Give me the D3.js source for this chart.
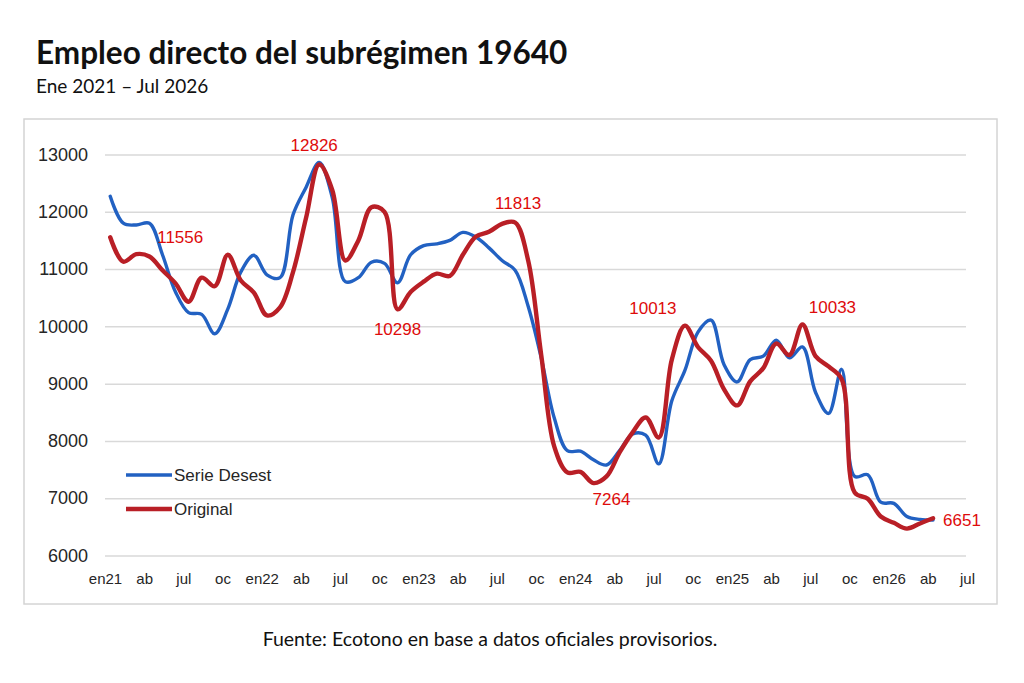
<!DOCTYPE html>
<html>
<head>
<meta charset="utf-8">
<script src="https://cdn.jsdelivr.net/npm/d3@7"></script>
<style>
  body { margin: 0; background: #fff; }
  svg { display: block; }
</style>
</head>
<body>
<svg id="chart" width="1024" height="683"></svg>
<script>
// quarterly tick labels, Jan 2021 .. Jul 2026 (every 3 months)
var tickLabels = ["en21","ab","jul","oc","en22","ab","jul","oc","en23","ab","jul","oc",
                  "en24","ab","jul","oc","en25","ab","jul","oc","en26","ab","jul"];

// monthly values, Jan 2021 .. Apr 2026
var desest = [
  12270, 11800, 11770, 11800, 11250, 10600, 10240, 10210, 9870, 10300,
  10950, 11240, 10900, 10850, 11950, 12430, 12860, 12250, 10780, 10850,
  11120, 11100, 10760, 11250, 11410, 11440, 11500, 11640, 11560, 11370,
  11150, 10980, 10350, 9450, 8400, 7830, 7820, 7670, 7580, 7830,
  8120, 8100, 7600, 8700, 9230, 9900, 10110, 9330, 9030, 9420,
  9480, 9760, 9450, 9640, 8850, 8480, 9250, 7380, 7410, 6930,
  6910, 6680, 6630, 6620
];
var original = [
  11556, 11130, 11260, 11220, 10980, 10750, 10430, 10850, 10700, 11250,
  10800, 10590, 10190, 10330, 10950, 11900, 12826, 12380, 11150, 11500,
  12080, 12000, 10298, 10600, 10780, 10920, 10880, 11250, 11570, 11650,
  11790, 11813, 11150, 9500, 7900, 7450, 7460, 7264, 7380, 7800,
  8150, 8410, 8060, 9420, 10013, 9640, 9400, 8900, 8620, 9040,
  9270, 9700, 9500, 10033, 9480, 9300, 9080, 7100, 6990, 6680,
  6570, 6470, 6560, 6651
];
var yTicks = [6000, 7000, 8000, 9000, 10000, 11000, 12000, 13000];

// months of the original series that get a value label
var labelIdx = [0, 16, 22, 31, 37, 44, 53, 63];
// where each label sits relative to its point
var labelOff = [[70, 6, "middle"], [-5, -13, "middle"], [0, 26, "middle"], [3, -13, "middle"],
                [18, 22, "middle"], [-32, -12, "middle"], [30, -11, "middle"], [10, 8, "start"]];

var blue = '#2261C2',
    red = '#B91F26',
    labelRed = '#DE0B0B';

var svg = d3.select("#chart");

svg.append("rect").attr("width", 1024).attr("height", 683).attr("fill", "#fff");

// title block
svg.append("text")
    .attr("x", 36).attr("y", 64)
    .attr("font-family", "Lato").attr("font-weight", 700).attr("font-size", 31.5)
    .attr("fill", "#111")
    .text("Empleo directo del subrégimen 19640");
svg.append("text")
    .attr("x", 36).attr("y", 93)
    .attr("font-family", "Lato").attr("font-size", 19)
    .attr("fill", "#111")
    .text("Ene 2021 – Jul 2026");

// chart frame
svg.append("rect")
    .attr("x", 24).attr("y", 119).attr("width", 973).attr("height", 485)
    .attr("fill", "none").attr("stroke", "#d4d4d4").attr("stroke-width", 1.5);

var xTick = d3.scaleLinear().domain([0, 66]).range([105, 967]);
var x = xTick.copy().domain([-0.4, 65.6]);
var y = d3.scaleLinear().domain([6000, 13000]).range([555.5, 154.5]);

// gridlines + y labels
var yAxis = svg.append("g")
    .attr("transform", "translate(105,0)")
    .call(d3.axisLeft(y).tickValues(yTicks).tickSize(-861).tickPadding(17).tickFormat(d3.format("d")));
yAxis.select(".domain").remove();
yAxis.selectAll("line").attr("stroke", "#d9d9d9").attr("stroke-width", 1.5);
yAxis.selectAll("text")
    .attr("font-family", "Liberation Sans, Arial").attr("font-size", 18).attr("fill", "#262626");

// x labels
var xAxis = svg.append("g")
    .attr("transform", "translate(0,570)")
    .call(d3.axisBottom(xTick)
        .tickValues(d3.range(0, 67, 3))
        .tickSize(0)
        .tickFormat(function(d) { return tickLabels[d / 3]; }));
xAxis.select(".domain").remove();
xAxis.selectAll("text")
    .attr("font-family", "Liberation Sans, Arial").attr("font-size", 15).attr("fill", "#262626");

var line = d3.line()
    .x(function(d, i) { return x(i); })
    .y(function(d) { return y(d); })
    .curve(d3.curveCatmullRom.alpha(0.5));

svg.append("path")
    .attr("d", line(desest))
    .attr("fill", "none").attr("stroke", blue).attr("stroke-width", 3.4)
    .attr("stroke-linejoin", "round").attr("stroke-linecap", "round");

svg.append("path")
    .attr("d", line(original))
    .attr("fill", "none").attr("stroke", red).attr("stroke-width", 4.4)
    .attr("stroke-linejoin", "round").attr("stroke-linecap", "round");

// value labels
svg.append("g").selectAll("text")
    .data(labelIdx)
    .join("text")
    .attr("x", function(d, k) { return x(d) + labelOff[k][0]; })
    .attr("y", function(d, k) { return y(original[d]) + labelOff[k][1]; })
    .attr("text-anchor", function(d, k) { return labelOff[k][2]; })
    .attr("font-family", "Liberation Sans, Arial").attr("font-size", 17)
    .attr("fill", labelRed)
    .text(function(d) { return original[d]; });

// legend
var legend = [["Serie Desest", blue, 3.4], ["Original", red, 4.4]];
var lg = svg.append("g").selectAll("g")
    .data(legend)
    .join("g")
    .attr("transform", function(d, i) { return "translate(126," + (475 + i * 34) + ")"; });
lg.append("line")
    .attr("x1", 0).attr("x2", 46)
    .attr("stroke", function(d) { return d[1]; })
    .attr("stroke-width", function(d) { return d[2]; });
lg.append("text")
    .attr("x", 48).attr("dy", "0.35em")
    .attr("font-family", "Liberation Sans, Arial").attr("font-size", 17).attr("fill", "#262626")
    .text(function(d) { return d[0]; });

// source
svg.append("text")
    .attr("x", 490).attr("y", 646)
    .attr("text-anchor", "middle")
    .attr("font-family", "Lato").attr("font-size", 19.5).attr("fill", "#111")
    .text("Fuente: Ecotono en base a datos oficiales provisorios.");
</script>
</body>
</html>
